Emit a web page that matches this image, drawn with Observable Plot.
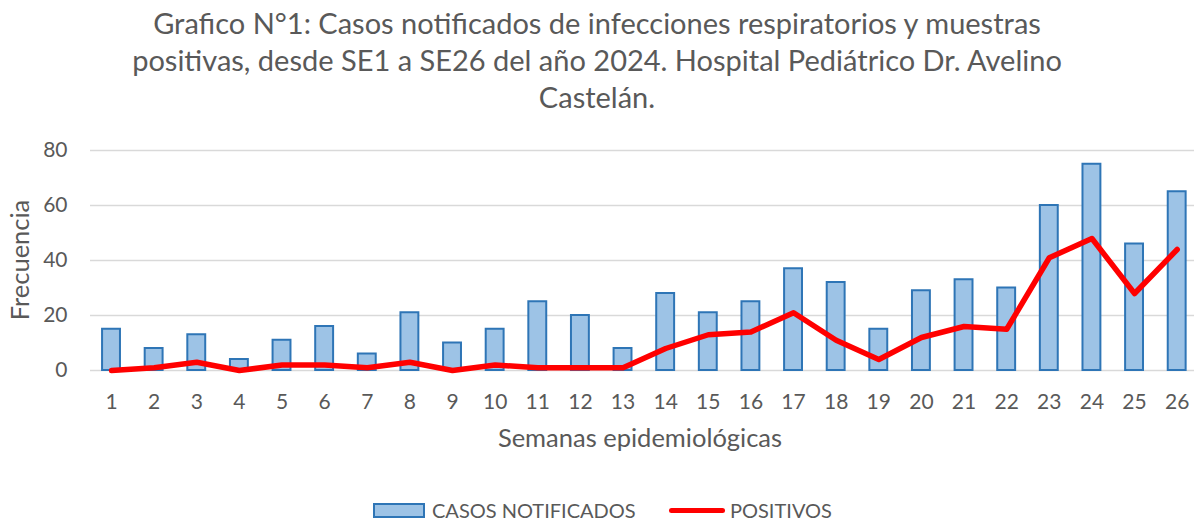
<!DOCTYPE html>
<html>
<head>
<meta charset="utf-8">
<script src="https://cdn.jsdelivr.net/npm/d3@7"></script>
<script src="https://cdn.jsdelivr.net/npm/@observablehq/plot@0.6"></script>
<style>
  html, body { margin: 0; padding: 0; background: #fff; }
  #wrap { position: relative; width: 1194px; height: 521px; overflow: hidden; font-family: Lato, "Open Sans", sans-serif; color: #595959; }
  #title { position: absolute; left: 0; top: 4px; width: 1194px; text-align: center; font-size: 29px; line-height: 37px; }
  #chart { position: absolute; left: 0; top: 0; }
  #xlabel { position: absolute; left: 340px; width: 600px; top: 422px; text-align: center; font-size: 25.5px; line-height: 30px; }
  #ylabel { position: absolute; left: 19px; top: 260px; transform: translate(-50%, -50%) rotate(-90deg); font-size: 25.5px; line-height: 30px; white-space: nowrap; }
  .leg { position: absolute; top: 500px; height: 20px; font-size: 20px; line-height: 20px; display: flex; align-items: center; white-space: nowrap; }
  .sw-bar { box-sizing: border-box; width: 52px; height: 15px; background: #9DC3E6; border: 2px solid #2E75B6; margin-right: 7px; }
  .sw-line { width: 56px; height: 5px; background: #FF0000; border-radius: 3px; margin-right: 5px; }
</style>
</head>
<body>
<div id="wrap">
  <div id="title">Grafico N°1: Casos notificados de infecciones respiratorios y muestras<br>positivas, desde SE1 a SE26 del año 2024. Hospital Pediátrico Dr. Avelino<br>Castelán.</div>
  <div id="chart"></div>
  <div id="xlabel">Semanas epidemiológicas</div>
  <div id="ylabel">Frecuencia</div>
  <div class="leg" style="left:373px"><span class="sw-bar"></span><span>CASOS NOTIFICADOS</span></div>
  <div class="leg" style="left:669px"><span class="sw-line"></span><span>POSITIVOS</span></div>
</div>
<script>
const semanas = ["1","2","3","4","5","6","7","8","9","10","11","12","13","14","15","16","17","18","19","20","21","22","23","24","25","26"];
const casosNotificados = [15, 8, 13, 4, 11, 16, 6, 21, 10, 15, 25, 20, 8, 28, 21, 25, 37, 32, 15, 29, 33, 30, 60, 75, 46, 65];
const positivos = [0, 1, 3, 0, 2, 2, 1, 3, 0, 2, 1, 1, 1, 8, 13, 14, 21, 11, 4, 12, 16, 15, 41, 48, 28, 44];
const yTicks = [0, 20, 40, 60, 80];

const data = semanas.map((s, i) => ({semana: s, casos: casosNotificados[i], positivos: positivos[i]}));

const chart = Plot.plot({
  width: 1194,
  height: 521,
  marginTop: 150,
  marginBottom: 151,
  marginLeft: 90,
  marginRight: 0,
  style: {fontFamily: "Lato, 'Open Sans', sans-serif", color: "#595959", background: "transparent", overflow: "visible"},
  x: {type: "band", domain: semanas, range: [89.7, 1198], paddingInner: 0.58, paddingOuter: 0.29, align: 0.5, round: false},
  y: {domain: [0, 80], range: [370, 150]},
  marks: [
    Plot.ruleY(yTicks, {stroke: "#D9D9D9", strokeWidth: 1.5}),
    Plot.barY(data, {x: "semana", y: "casos", fill: "#9DC3E6", stroke: "#2E75B6", strokeWidth: 2}),
    Plot.line(data, {x: "semana", y: "positivos", stroke: "#FF0000", strokeWidth: 5.5, strokeLinejoin: "round", strokeLinecap: "round"}),
    Plot.axisY(yTicks, {tickSize: 0, tickPadding: 23, fontSize: 21, label: null, fill: "#595959"}),
    Plot.axisX({tickSize: 0, tickPadding: 23.5, fontSize: 21, label: null, fill: "#595959"})
  ]
});
document.getElementById("chart").appendChild(chart);
</script>
</body>
</html>
